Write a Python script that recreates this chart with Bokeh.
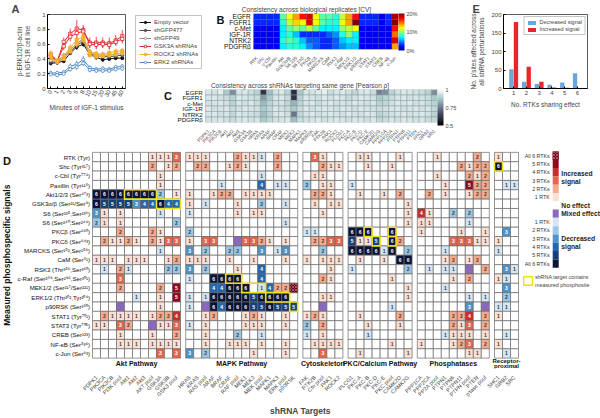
import math
from bokeh.plotting import figure
from bokeh.layouts import row, column
from bokeh.models import (ColumnDataSource, Legend, LegendItem, ColorBar, LinearColorMapper,
                          FixedTicker, Range1d, FactorRange, Spacer)
from bokeh.transform import dodge, transform
from bokeh.embed import file_html
from bokeh.resources import INLINE
from bokeh.core.properties import value

FONT = "Liberation Sans"

# ---------------- Panel A data ----------------
A_TIMES = ["0", "1", "2", "3", "5", "8", "10", "15", "20", "30", "45", "60"]
A_EMPTY = [0.34, 0.35, 0.37, 0.48, 0.56, 0.60, 0.46, 0.42, 0.39, 0.40, 0.41, 0.41]
A_EMPTY_ERR = [0.02, 0.02, 0.02, 0.03, 0.04, 0.04, 0.03, 0.03, 0.03, 0.02, 0.02, 0.02]
A_GFP477 = [0.36, 0.35, 0.42, 0.50, 0.58, 0.64, 0.47, 0.44, 0.43, 0.43, 0.44, 0.45]
A_GFP477_ERR = [0.02, 0.02, 0.03, 0.03, 0.04, 0.05, 0.03, 0.03, 0.03, 0.03, 0.03, 0.03]
A_GFP49 = [0.38, 0.36, 0.45, 0.52, 0.61, 0.67, 0.50, 0.46, 0.45, 0.45, 0.47, 0.47]
A_GFP49_ERR = [0.02, 0.02, 0.03, 0.03, 0.04, 0.05, 0.03, 0.03, 0.03, 0.03, 0.03, 0.03]
A_GSK3A_1 = [0.46, 0.37, 0.63, 0.74, 0.81, 0.79, 0.62, 0.62, 0.62, 0.61, 0.65, 0.71]
A_GSK3A_1_ERR = [0.05, 0.03, 0.06, 0.07, 0.12, 0.07, 0.07, 0.08, 0.07, 0.08, 0.07, 0.08]
A_GSK3A_2 = [0.43, 0.37, 0.57, 0.70, 0.75, 0.77, 0.60, 0.59, 0.60, 0.59, 0.63, 0.67]
A_GSK3A_2_ERR = [0.04, 0.03, 0.05, 0.06, 0.08, 0.06, 0.05, 0.06, 0.05, 0.06, 0.05, 0.06]
A_ROCK2_1 = [0.47, 0.38, 0.44, 0.55, 0.66, 0.70, 0.49, 0.47, 0.46, 0.48, 0.50, 0.51]
A_ROCK2_1_ERR = [0.04, 0.03, 0.04, 0.05, 0.06, 0.07, 0.04, 0.04, 0.04, 0.04, 0.04, 0.04]
A_ROCK2_2 = [0.41, 0.36, 0.40, 0.50, 0.60, 0.66, 0.45, 0.43, 0.44, 0.45, 0.46, 0.48]
A_ROCK2_2_ERR = [0.03, 0.03, 0.03, 0.04, 0.05, 0.05, 0.03, 0.03, 0.03, 0.03, 0.03, 0.03]
A_ERK2_1 = [0.21, 0.21, 0.22, 0.30, 0.33, 0.39, 0.28, 0.26, 0.27, 0.26, 0.29, 0.30]
A_ERK2_1_ERR = [0.03, 0.03, 0.03, 0.04, 0.05, 0.05, 0.03, 0.03, 0.03, 0.03, 0.03, 0.03]
A_ERK2_2 = [0.19, 0.18, 0.20, 0.26, 0.29, 0.34, 0.25, 0.24, 0.24, 0.24, 0.26, 0.27]
A_ERK2_2_ERR = [0.02, 0.02, 0.02, 0.03, 0.04, 0.04, 0.03, 0.03, 0.03, 0.03, 0.03, 0.03]

# ---------------- Panel B data (CV %) ----------------
B_RTKS = ["EGFR", "FGFR1", "c-Met", "IGF-1R", "NTRK2", "PDGFRβ"]
B_SITES = ["RTK", "Shc", "c-Cbl", "Paxillin", "Akt", "GSK3α/β", "S6 235", "S6 240", "PKCβ",
           "PKCδ", "MARCKS", "CaM", "RSK3", "c-Raf", "MEK1/2", "ERK1/2", "p90RSK", "STAT1",
           "STAT3", "CREB", "NF-κB", "c-Jun"]
B_CV_EGFR = [3, 3, 3, 3, 9, 12, 14, 17, 18, 12, 9, 9, 8, 11, 14, 17, 3, 3, 3, 2, 3, 19]
B_CV_FGFR1 = [3, 3, 3, 3, 8, 11, 13, 12, 18, 12, 9, 8, 8, 12, 14, 20, 3, 3, 3, 2, 3, 20]
B_CV_CMET = [2, 2, 2, 2, 7, 9, 10, 9, 11, 9, 7, 7, 7, 10, 11, 12, 2, 2, 2, 2, 2, 17]
B_CV_IGF1R = [2, 2, 2, 2, 7, 8, 6, 3, 3, 3, 3, 4, 5, 8, 10, 7, 2, 2, 2, 2, 2, 15]
B_CV_NTRK2 = [2, 2, 2, 2, 8, 9, 8, 6, 4, 4, 3, 3, 4, 6, 7, 7, 2, 2, 2, 2, 2, 18]
B_CV_PDGFRB = [2, 2, 2, 2, 7, 8, 8, 7, 5, 4, 3, 3, 4, 5, 6, 6, 2, 2, 2, 2, 2, 14]

# ---------------- Panel C data (Pearson rho) ----------------
C_GENES = ["PDPK1", "PIK3CA", "PIK3CB", "Akt1", "Akt2", "Akt3", "GSK3A", "GSK3B", "HRAS", "KRAS",
           "ARAF", "BRAF", "CRAF", "MEK1", "MEK2", "MAPK1", "MAPK3", "p90RSK", "FAK", "PTK2B",
           "PAK1", "ROCK2", "PLCG1", "PKC-A", "PKC-B", "PKC-D", "PKC-E", "CAMK2D", "CAMK2G",
           "PPP1CA", "PPP2CA", "PTPN1", "PTPN6", "PTPN11", "PTEN", "SHC1", "GRB2", "SRC"]
C_RHO_EGFR = [0.95, 0.93, 0.96, 0.88, 0.78, 0.94, 0.95, 0.92, 0.90, 0.62, 0.86, 0.93, 0.95, 0.90, 0.60, 0.88, 0.94, 0.93, 0.95,
              0.96, 0.92, 0.94, 0.95, 0.93, 0.91, 0.94, 0.95, 0.92, 0.76, 0.78, 0.90, 0.93, 0.95, 0.94, 0.93, 0.92, 0.90, 0.78]
C_RHO_FGFR1 = [0.94, 0.95, 0.93, 0.92, 0.90, 0.95, 0.94, 0.93, 0.92, 0.80, 0.88, 0.94, 0.95, 0.92, 0.62, 0.90, 0.95, 0.94, 0.93,
               0.95, 0.93, 0.95, 0.94, 0.92, 0.93, 0.95, 0.94, 0.93, 0.88, 0.90, 0.92, 0.94, 0.95, 0.93, 0.94, 0.93, 0.92, 0.88]
C_RHO_CMET = [0.93, 0.94, 0.95, 0.93, 0.90, 0.94, 0.93, 0.95, 0.92, 0.85, 0.90, 0.93, 0.94, 0.91, 0.84, 0.90, 0.94, 0.95, 0.92,
              0.94, 0.95, 0.93, 0.94, 0.93, 0.95, 0.94, 0.93, 0.94, 0.90, 0.91, 0.93, 0.95, 0.94, 0.95, 0.93, 0.94, 0.92, 0.90]
C_RHO_IGF1R = [0.95, 0.93, 0.94, 0.95, 0.92, 0.93, 0.95, 0.94, 0.93, 0.88, 0.91, 0.95, 0.93, 0.92, 0.88, 0.92, 0.95, 0.93, 0.94,
               0.95, 0.94, 0.93, 0.95, 0.94, 0.93, 0.95, 0.94, 0.93, 0.92, 0.93, 0.94, 0.95, 0.93, 0.94, 0.95, 0.93, 0.94, 0.91]
C_RHO_NTRK2 = [0.94, 0.95, 0.93, 0.94, 0.91, 0.95, 0.94, 0.93, 0.92, 0.86, 0.90, 0.94, 0.95, 0.93, 0.74, 0.91, 0.94, 0.95, 0.93,
               0.94, 0.95, 0.94, 0.93, 0.95, 0.94, 0.93, 0.95, 0.94, 0.90, 0.92, 0.93, 0.94, 0.95, 0.93, 0.94, 0.95, 0.93, 0.90]
C_RHO_PDGFRB = [0.93, 0.94, 0.95, 0.93, 0.92, 0.94, 0.95, 0.93, 0.94, 0.88, 0.91, 0.93, 0.94, 0.95, 0.86, 0.92, 0.93, 0.94, 0.95,
                0.93, 0.94, 0.95, 0.94, 0.93, 0.95, 0.94, 0.93, 0.95, 0.91, 0.92, 0.94, 0.93, 0.95, 0.94, 0.93, 0.94, 0.92, 0.91]

# ---------------- Panel E data ----------------
E_N_RTKS = ["1", "2", "3", "4", "5", "6"]
E_DECREASED = [52, 18, 12, 10, 16, 41]
E_INCREASED = [180, 59, 18, 3, 2, 1]

# ---------------- Panel D data ----------------
# '.' no effect, '1'-'6' increased in n RTKs, 'a'-'f' decreased in 1-6 RTKs, 'm' mixed
D_SIGNALS = ["RTK (Tyr)", "Shc (Tyr³¹⁷)", "c-Cbl (Tyr⁷⁷⁴)", "Paxillin (Tyr¹¹⁸)", "Akt1/2/3 (Ser⁴⁷³)",
             "GSK3α/β (Ser²¹/Ser⁹)", "S6 (Ser²³⁵,Ser²³⁶)", "S6 (Ser²⁴⁰,Ser²⁴⁴)", "PKCβ (Ser⁶⁶⁰)",
             "PKCδ (Ser⁶⁴³)", "MARCKS (Ser¹⁵²,Ser¹⁵⁶)", "CaM (Ser⁸¹)", "RSK3 (Thr³⁵⁶,Ser³⁶⁰)",
             "c-Raf (Ser²⁸⁹,Ser²⁹⁶,Ser³⁰¹)", "MEK1/2 (Ser²¹⁷/Ser²²¹)", "ERK1/2 (Thr²⁰²,Tyr²⁰⁴)",
             "p90RSK (Ser³⁸⁰)", "STAT1 (Tyr⁷⁰¹)", "STAT3 (Tyr⁷⁰⁵)", "CREB (Ser¹³³)", "NF-κB (Ser⁵³⁶)",
             "c-Jun (Ser⁶³)"]
D_GROUPS = ["Akt Pathway", "MAPK Pathway", "Cytoskeleton", "PKC/Calcium Pathway", "Phosphatases",
            "Receptor-proximal"]
AKT_COLS = ["PDPK1", "PIK3CA", "PIK3CB", "PI3K pool", "Akt1", "Akt2", "Akt3", "AKT pool", "GSK3A",
            "GSK3B", "GSK3 pool"]
MAPK_COLS = ["HRAS", "KRAS", "RAS pool", "ARAF", "BRAF", "CRAF", "RAF pool", "MEK1", "MEK2",
             "MEK pool", "MAPK1", "MAPK3", "ERK pool", "p90RSK"]
CYTO_COLS = ["FAK", "PTK2B", "Cfn pool", "PAK1", "ROCK2"]
PKC_COLS = ["PLCG1", "PKC-A", "PKC-B", "PKC-D", "PKC-E", "PKC pool", "CAMK2D", "CAMK2G"]
PHOS_COLS = ["PPP1CA", "PPP2CA", "PP2A pool", "PTPN1", "PTPN6", "PTPN11", "PTPN pool", "PTEN",
             "p'tase pool"]
RP_COLS = ["SHC1", "GRB2", "SRC"]

D_AKT = [".......1113", ".......2.12", "........1..", "........1..", "ffffffffb.1",
         "feeeecddfdd", "c1.1....a..", "b1.1......b", "...2...21..", ".21121.2133",
         "........a..", "111.111..12", ".a.2a....bb", "...3.......", "...2....2.5",
         ".....a..1.5", "...m....1..", ".21111.1224", "11.32..m113", "...1...1..2",
         "...111.1111", "........3.3"]
D_MAPK = ["111...211a.2..", ".22..121...2..", ".........a....", "....a....d.aa.",
          "1..122.1111...", "1.a...1..b..a.", "a.....1.11....", "............a.",
          "b.............", "1.33..m3321.1.", "c.b..bb..c.ac.", "111..1..1...1.",
          "c.b...1..d....", "a..ffff..d....", "...ddfff.ad226", "a.afffffeffff.",
          "a.mfdfffeefeee", "..12...121..1.", "a.1....111..1.", "..1...b..a....",
          "..1..111.1..1.", "c.b.....1...1."]
D_CYTO = [".31..", "..211", ".11..", "b.11.", ".221.", ".1.11", "..1..", ".....", "aa...",
          ".2233", "..b..", "1.111", "...1.", "..21.", ".....", "..11.", "..m..", "121..",
          "b.2..", "a.1..", ".1111", "..3.."]
D_PKC = [".11...1.", "..1..1..", "........", "a.......", ".1..1.2.", ".......1", ".......1",
         ".......1", "fff..f..", "e11e.f2.", "ffffaf.b", ".1..1.ff", "a......b", ".....1..",
         ".......1", ".......1", ".....a..", ".1....2.", "..1...1.", "..a.....", ".....1..",
         ".1.....1"]
D_PHOS = ["..1....2.", ".....2122", "..1...212", "...1..522", ".2.1..122", ".........",
          "41..b.b..", "11....a..", "1....1..1", "....33311", "...a.....", "...12.12.",
          ".a.aa.m.2", "....1.2..", "...a.....", "......a.a", "......c.m", "....224.2",
          "....213.2", "...a111.1", "1...123.2", "......11."]
D_RP = ["1..", "f..", "...", ".aa", "...", "...", "...", "...", ".c.", "1..", "a..", "...",
        ".ca", "1a.", ".c.", ".b.", "aa.", "1..", "...", ".a.", "1..", ".a."]
# shRNA target contains measured phosphosite: (signal row, group, first col, last col)
D_TARGET_BOXES = [(1, "Receptor-proximal", 0, 0), (4, "Akt Pathway", 4, 7), (5, "Akt Pathway", 8, 10),
                  (8, "PKC/Calcium Pathway", 2, 2), (8, "PKC/Calcium Pathway", 5, 5),
                  (9, "PKC/Calcium Pathway", 3, 3), (9, "PKC/Calcium Pathway", 5, 5),
                  (13, "MAPK Pathway", 5, 6), (14, "MAPK Pathway", 7, 9),
                  (15, "MAPK Pathway", 10, 12), (16, "MAPK Pathway", 13, 13)]
D_LEGEND_COUNTS = ["All 6 RTKs", "5 RTKs", "4 RTKs", "3 RTKs", "2 RTKs", "1 RTK", "", "",
                   "1 RTK", "2 RTKs", "3 RTKs", "4 RTKs", "5 RTKs", "All 6 RTKs"]

INC = ["#fbe1d3", "#f4aa8c", "#e3674d", "#c92d2b", "#8e0b1f", "#5c0015"]
DEC = ["#d4e5f3", "#9dc6e3", "#4d93c9", "#2567ae", "#173f7d", "#0b1434"]
MIX = "#8b68be"
YELLOW = "#efe01a"


def ramp(anchors, n=256):
    out = []
    for i in range(n):
        t = i / (n - 1)
        rgb = anchors[-1][1]
        for (t0, c0), (t1, c1) in zip(anchors[:-1], anchors[1:]):
            if t0 <= t <= t1:
                f = (t - t0) / (t1 - t0)
                rgb = [round(a + (b - a) * f) for a, b in zip(c0, c1)]
                break
        out.append("#%02x%02x%02x" % tuple(rgb))
    return out


JET = ramp([(0, (0, 0, 143)), (0.11, (0, 0, 255)), (0.36, (0, 255, 255)), (0.61, (255, 255, 0)),
            (0.86, (255, 0, 0)), (1, (128, 0, 0))])
BONE = ramp([(0, (0, 0, 0)), (0.365, (81, 81, 113)), (0.746, (166, 199, 199)), (1, (255, 255, 255))])


def base(p):
    p.background_fill_color = None
    p.border_fill_color = None
    p.grid.visible = False
    for ax in p.axis:
        ax.major_label_text_font = FONT
        ax.axis_label_text_font = FONT
        ax.axis_label_text_font_style = "normal"
        ax.minor_tick_line_color = None


def letter_title(p, txt, offset):
    p.title.text = txt
    p.title.align = "left"
    p.title.offset = offset
    p.title.text_font = FONT
    p.title.text_font_size = "11px"
    p.title.text_font_style = "bold"
    p.title.standoff = 0


# ================= Panel A =================
pA = figure(width=133, height=150, x_range=FactorRange(factors=A_TIMES), y_range=Range1d(0, 1),
            min_border_left=47, min_border_right=8, min_border_top=14, min_border_bottom=62,
            output_backend="svg", toolbar_location=None)
base(pA)
A_SERIES = [
    ("Empty vector", "#111111", [(A_EMPTY, A_EMPTY_ERR)], "circle", "#111111"),
    ("shGFP477", "#4d4d4d", [(A_GFP477, A_GFP477_ERR)], "circle", "#4d4d4d"),
    ("shGFP49", "#8c8c8c", [(A_GFP49, A_GFP49_ERR)], "circle", "white"),
    ("GSK3A shRNAs", "#e0262d", [(A_GSK3A_1, A_GSK3A_1_ERR), (A_GSK3A_2, A_GSK3A_2_ERR)], "square", "white"),
    ("ROCK2 shRNAs", "#f2b134", [(A_ROCK2_1, A_ROCK2_1_ERR), (A_ROCK2_2, A_ROCK2_2_ERR)], "square", "#f2b134"),
    ("ERK2 shRNAs", "#4b88c9", [(A_ERK2_1, A_ERK2_1_ERR), (A_ERK2_2, A_ERK2_2_ERR)], "circle", "white"),
]
for label, color, curves, marker, fill in A_SERIES:
    for ys, errs in curves:
        src = ColumnDataSource(dict(x=A_TIMES, y=ys, lo=[v - e for v, e in zip(ys, errs)],
                                    hi=[v + e for v, e in zip(ys, errs)]))
        pA.segment(x0="x", y0="lo", x1="x", y1="hi", source=src, line_color=color, line_width=0.8)
        pA.line("x", "y", source=src, line_color=color, line_width=1)
        pA.scatter("x", "y", source=src, marker=marker, size=3.2, line_color=color,
                   fill_color=fill, line_width=0.8)
pA.yaxis.ticker = FixedTicker(ticks=[0, 0.2, 0.4, 0.6, 0.8, 1])
pA.yaxis.major_label_overrides = {0: "0", 1: "1"}
pA.xaxis.major_label_orientation = math.pi / 3
for ax in pA.axis:
    ax.major_tick_in = 2
    ax.major_tick_out = 0
    ax.major_label_text_font_size = "6px"
    ax.major_label_standoff = 2
    ax.axis_label_text_font_size = "6.5px"
    ax.axis_label_standoff = 3
pA.xaxis.axis_label = "Minutes of IGF-1 stimulus"
pA.yaxis.axis_label = "p-ERK1/2/β-actin\nin IGF-1R cell line"
pA.outline_line_color = "#333333"
pA.outline_line_width = 0.8
letter_title(pA, "A", -36)

# ----- Panel A legend box (legend in the side panel of a small figure) -----
pLA = figure(width=72, height=77, x_range=Range1d(0, 1), y_range=Range1d(0, 1),
             x_axis_type=None, y_axis_type=None,
             min_border_left=0, min_border_right=0, min_border_top=0, min_border_bottom=0,
             output_backend="svg", toolbar_location=None)
try:
    pLA.title = None
except Exception:
    pLA.title.text_font_size = "0px"
    pLA.title.standoff = 0
pLA.background_fill_color = None
pLA.border_fill_color = None
pLA.outline_line_color = None
pLA.grid.visible = False
a_items = []
for label, color, curves, marker, fill in A_SERIES:
    # legend keys use the series styles; their points lie outside the visible range
    kl = pLA.line(x=[-5, -4], y=[-5, -5], line_color=color, line_width=1)
    ks = pLA.scatter(x=[-5], y=[-5], marker=marker, size=3.2, line_color=color, fill_color=fill,
                     line_width=0.8)
    a_items.append(LegendItem(label=label, renderers=[kl, ks]))
legA = Legend(items=a_items, location="top_left", label_text_font=FONT, label_text_font_size="6px",
              glyph_width=12, glyph_height=6, label_height=6, spacing=2, padding=3, margin=2,
              border_line_color="#888888", border_line_width=0.6, label_standoff=3,
              background_fill_alpha=0)
pLA.add_layout(legA, "left")

# ================= Panel B =================
mapB = LinearColorMapper(palette=JET, low=0, high=20)
bx, by, bv = [], [], []
for rtk, vals in zip(B_RTKS, [B_CV_EGFR, B_CV_FGFR1, B_CV_CMET, B_CV_IGF1R, B_CV_NTRK2, B_CV_PDGFRB]):
    for i, v in enumerate(vals):
        bx.append(i + 0.5); by.append(rtk); bv.append(v)
pB = figure(width=261, height=77, x_range=Range1d(-5.92, len(B_SITES)),
            y_range=FactorRange(factors=list(reversed(B_RTKS))), y_axis_location=None,
            min_border_left=9, min_border_right=68, min_border_top=13, min_border_bottom=27,
            output_backend="svg", toolbar_location=None)
base(pB)
pB.rect(x="x", y="y", width=1, height=1, source=ColumnDataSource(dict(x=bx, y=by, v=bv)),
        fill_color=transform("v", mapB), line_color="#333333", line_alpha=0.35, line_width=0.5)
pB.text(x=[-0.4] * len(B_RTKS), y=B_RTKS, text=B_RTKS, text_font=value(FONT),
        text_font_size=value("6.6px"), text_align="right", text_baseline="middle",
        text_color="#111111")
pB.text(x=[-5.6], y=[(B_RTKS[0], 0.5)], text=["B"], text_font=value(FONT),
        text_font_size=value("11px"), text_font_style="bold", text_align="left",
        text_baseline="top", text_color="#111111")
pB.title.text = "Consistency across biological replicates [CV]"
pB.title.align = "center"
pB.title.offset = 22
pB.title.text_font = FONT
pB.title.text_font_size = "6.5px"
pB.title.text_font_style = "normal"
pB.title.standoff = 2
cbB = ColorBar(color_mapper=mapB, width=6, height=37, location="top_left", padding=0, margin=4,
               ticker=FixedTicker(ticks=[0, 10, 20]),
               major_label_overrides={0: "0%", 10: "10%", 20: "20%"},
               major_label_text_font=FONT, major_label_text_font_size="5.5px", label_standoff=2,
               major_tick_line_color=None, bar_line_color=None, background_fill_alpha=0)
pB.add_layout(cbB, "right")
pB.xaxis.ticker = FixedTicker(ticks=[i + 0.5 for i in range(len(B_SITES))])
pB.xaxis.major_label_overrides = {i + 0.5: s for i, s in enumerate(B_SITES)}
pB.xaxis.axis_line_color = None
pB.xaxis.major_tick_line_color = None
pB.xaxis.major_label_standoff = 2
pB.xaxis.major_label_text_font_size = "4.6px"
pB.xaxis.major_label_orientation = math.pi / 4
pB.outline_line_color = None

# ================= Panel C =================
mapC = LinearColorMapper(palette=BONE, low=0.5, high=1)
cx, cy, cv = [], [], []
for rtk, vals in zip(B_RTKS, [C_RHO_EGFR, C_RHO_FGFR1, C_RHO_CMET, C_RHO_IGF1R, C_RHO_NTRK2, C_RHO_PDGFRB]):
    for i, v in enumerate(vals):
        cx.append(i + 0.5); cy.append(rtk); cv.append(v)
pC = figure(width=306, height=73, x_range=Range1d(-7.04, len(C_GENES)),
            y_range=FactorRange(factors=list(reversed(B_RTKS))), y_axis_location=None,
            min_border_left=2, min_border_right=29, min_border_top=12, min_border_bottom=25,
            output_backend="svg", toolbar_location=None)
base(pC)
pC.rect(x="x", y="y", width=1, height=1, source=ColumnDataSource(dict(x=cx, y=cy, v=cv)),
        fill_color=transform("v", mapC), line_color="#8a9aa0", line_width=0.5)
pC.text(x=[-0.45] * len(B_RTKS), y=B_RTKS, text=B_RTKS, text_font=value(FONT),
        text_font_size=value("6.2px"), text_align="right", text_baseline="middle",
        text_color="#111111")
pC.text(x=[-6.8], y=[(B_RTKS[0], 0.5)], text=["C"], text_font=value(FONT),
        text_font_size=value("11px"), text_font_style="bold", text_align="left",
        text_baseline="top", text_color="#111111")
pC.title.text = "Consistency across shRNAs targeting same gene [Pearson ρ]"
pC.title.align = "center"
pC.title.offset = 21
pC.title.text_font = FONT
pC.title.text_font_size = "6.5px"
pC.title.text_font_style = "normal"
pC.title.standoff = 1
cbC = ColorBar(color_mapper=mapC, width=6, height=36, location="top_left", padding=0, margin=7,
               ticker=FixedTicker(ticks=[0.5, 0.75, 1]),
               major_label_overrides={0.5: "0.5", 0.75: "0.75", 1: "1"},
               major_label_text_font=FONT, major_label_text_font_size="5.5px", label_standoff=2,
               major_tick_line_color=None, bar_line_color=None, background_fill_alpha=0)
pC.add_layout(cbC, "right")
pC.xaxis.ticker = FixedTicker(ticks=[i + 0.5 for i in range(len(C_GENES))])
pC.xaxis.major_label_overrides = {i + 0.5: s for i, s in enumerate(C_GENES)}
pC.xaxis.axis_line_color = None
pC.xaxis.major_tick_line_color = None
pC.xaxis.major_label_standoff = 2
pC.xaxis.major_label_text_font_size = "4.6px"
pC.xaxis.major_label_orientation = math.pi / 4
pC.outline_line_color = None

# ================= Panel E =================
pE = figure(width=134, height=150, x_range=FactorRange(factors=E_N_RTKS, range_padding=0.1),
            y_range=Range1d(0, 200), min_border_left=37, min_border_right=13, min_border_top=13,
            min_border_bottom=58, output_backend="svg", toolbar_location=None)
base(pE)
srcE = ColumnDataSource(dict(n=E_N_RTKS, dec=E_DECREASED, inc=E_INCREASED))
rE1 = pE.vbar(x=dodge("n", -0.18, range=pE.x_range), top="dec", width=0.34, source=srcE,
              fill_color="#6ea5d9", line_color=None)
rE2 = pE.vbar(x=dodge("n", 0.18, range=pE.x_range), top="inc", width=0.34, source=srcE,
              fill_color="#e8262b", line_color=None)
legE = Legend(items=[LegendItem(label="Decreased signal", renderers=[rE1]),
                     LegendItem(label="Increased signal", renderers=[rE2])],
              location="top_right", label_text_font=FONT, label_text_font_size="5.5px",
              glyph_width=10, glyph_height=5, label_height=5, spacing=1, padding=2, margin=2,
              border_line_color="#888888", border_line_width=0.6, label_standoff=3)
pE.add_layout(legE)
pE.yaxis.ticker = FixedTicker(ticks=[0, 50, 100, 150, 200])
for ax in pE.axis:
    ax.major_tick_in = 2
    ax.major_tick_out = 0
    ax.major_label_text_font_size = "6px"
    ax.major_label_standoff = 2
    ax.axis_label_text_font_size = "6.5px"
    ax.axis_label_standoff = 3
pE.xaxis.axis_label = "No. RTKs sharing effect"
pE.yaxis.axis_label = "No. p'sites affected across\nall shRNA perturbations"
pE.outline_line_color = "#333333"
pE.outline_line_width = 0.8
letter_title(pE, "E", -31)

# ================= Panel D =================
D_COLS = [AKT_COLS, MAPK_COLS, CYTO_COLS, PKC_COLS, PHOS_COLS, RP_COLS]
D_VALUES = [D_AKT, D_MAPK, D_CYTO, D_PKC, D_PHOS, D_RP]
GAP = 0.65
offsets, o = [], 0.0
for cols in D_COLS:
    offsets.append(o)
    o += len(cols) + GAP
NR = len(D_SIGNALS)
dx, dy, dfill, dtxt, dtc = [], [], [], [], []
hx, hy = [], []
tick_x, tick_lab = [], []
for k, (g, cols, rows) in enumerate(zip(D_GROUPS, D_COLS, D_VALUES)):
    assert len(rows) == NR, g
    for j, c in enumerate(cols):
        tick_x.append(round(offsets[k] + j + 0.5, 2)); tick_lab.append(c)
    for r, s in enumerate(rows):
        assert len(s) == len(cols), (g, r, s)
        for j, ch in enumerate(s):
            x = round(offsets[k] + j + 0.5, 2)
            y = NR - 1 - r
            t, tc = "", "#333333"
            if ch == ".":
                fill = "white"
            elif ch == "m":
                fill = MIX
            elif ch.isdigit():
                v = int(ch)
                fill = INC[v - 1]
                t = ch if v < 6 else ""
                tc = "white" if v >= 3 else "#4a3030"
                if v == 6:
                    hx.append(x); hy.append(y)
            else:
                v = ord(ch) - 96
                fill = DEC[v - 1]
                t = str(v)
                tc = "white" if v >= 3 else "#2a3a4a"
            dx.append(x); dy.append(y); dfill.append(fill); dtxt.append(t); dtc.append(tc)

BAND = 1.11
pD = figure(width=600, height=268, x_range=Range1d(-11.5, 63.5),
            y_range=Range1d(-0.5 - BAND, NR - 0.5 + 0.2), y_axis_location=None,
            min_border_left=0, min_border_right=0, min_border_top=0, min_border_bottom=37,
            output_backend="svg", toolbar_location=None)
base(pD)
srcD = ColumnDataSource(dict(x=dx, y=dy, fill=dfill, t=dtxt, tc=dtc))
pD.rect(x="x", y="y", width=1, height=1, source=srcD, fill_color="fill",
        line_color="#6a6a6a", line_width=0.7)
pD.rect(x=hx, y=hy, width=1, height=1, fill_color=INC[5], line_color="#6a6a6a", line_width=0.7,
        hatch_pattern="diagonal_cross", hatch_color="#ef8a8a", hatch_scale=3, hatch_weight=0.6)
pD.text(x="x", y="y", text="t", source=srcD, text_color="tc", text_font=value(FONT),
        text_font_size=value("5px"), text_font_style="bold", text_align="center",
        text_baseline="middle")
bl, br, bt, bb = [], [], [], []
for r, g, a, b in D_TARGET_BOXES:
    k = D_GROUPS.index(g)
    bl.append(offsets[k] + a); br.append(offsets[k] + b + 1)
    bt.append(NR - 1 - r + 0.5); bb.append(NR - 1 - r - 0.5)
pD.quad(left=bl, right=br, top=bt, bottom=bb, fill_color=None, line_color=YELLOW, line_width=1.6)
# row labels (signals)
pD.text(x=[-0.3] * NR, y=[NR - 1 - i for i in range(NR)], text=D_SIGNALS, text_font=value(FONT),
        text_font_size=value("6.1px"), text_align="right", text_baseline="middle",
        text_color="#111111")
pD.text(x=[-10.7], y=[(NR - 1) / 2], text=["Measured phosphospecific signals"], angle=math.pi / 2,
        text_font=value(FONT), text_font_size=value("8.5px"), text_font_style="bold",
        text_align="center", text_baseline="middle", text_color="#111111")
pD.text(x=[-11.2], y=[NR - 0.8], text=["D"], text_font=value(FONT), text_font_size=value("11px"),
        text_font_style="bold", text_align="left", text_baseline="top", text_color="#111111")
# group labels in the band under the grid
centers = [offsets[k] + len(cols) / 2 for k, cols in enumerate(D_COLS)]
g_x = centers[:-1] + [centers[-1], centers[-1]]
g_t = D_GROUPS[:-1] + ["Receptor-", "proximal"]
g_y = [-0.5 - BAND * 0.5] * (len(D_GROUPS) - 1) + [-0.5 - BAND * 0.27, -0.5 - BAND * 0.8]
g_fs = ["7px"] * (len(D_GROUPS) - 1) + ["6px", "6px"]
pD.text(x=g_x, y=g_y, text=g_t, text_font_size=g_fs, text_font=value(FONT),
        text_font_style="bold", text_align="center", text_baseline="middle", text_color="#111111")
pD.xaxis.ticker = FixedTicker(ticks=tick_x)
pD.xaxis.major_label_overrides = {tx: lab for tx, lab in zip(tick_x, tick_lab)}
pD.xaxis.major_label_text_font_size = "5.5px"
pD.xaxis.major_label_orientation = math.pi / 4
pD.xaxis.axis_line_color = None
pD.xaxis.major_tick_line_color = None
pD.xaxis.major_label_standoff = 2
pD.xaxis.axis_label = "shRNA Targets"
pD.xaxis.axis_label_text_font_style = "bold"
pD.xaxis.axis_label_text_font_size = "8.5px"
pD.xaxis.axis_label_standoff = 3
pD.outline_line_color = None

# ----- D legend (drawn in the same frame, right of the grid) -----
leg_colors = list(reversed(INC)) + ["white", MIX] + DEC
cell_h = 0.888
top_y = NR - 0.4
LX = 57.9
ly = [top_y - (i + 0.5) * cell_h for i in range(len(leg_colors))]
pD.rect(x=[LX] * len(leg_colors), y=ly, width=0.75, height=cell_h, fill_color=leg_colors,
        line_color=None)
pD.rect(x=[LX], y=[ly[0]], width=0.75, height=cell_h, fill_color=INC[5], line_color=None,
        hatch_pattern="diagonal_cross", hatch_color="#ef8a8a", hatch_scale=3, hatch_weight=0.6)
pD.text(x=[LX - 0.75] * len(leg_colors), y=ly, text=D_LEGEND_COUNTS, text_font=value(FONT),
        text_font_size=value("5.3px"), text_align="right", text_baseline="middle",
        text_color="#333333")
titles = ["Increased", "signal", "No effect", "Mixed effect", "Decreased", "signal"]
title_idx = [2.1, 3.1, 6.0, 7.0, 9.95, 10.95]
pD.text(x=[LX + 0.7] * len(titles), y=[top_y - (kk + 0.5) * cell_h for kk in title_idx], text=titles,
        text_font=value(FONT), text_font_size=value("6.7px"), text_font_style="bold",
        text_align="left", text_baseline="middle", text_color="#222222")
box_y = top_y - 15.6 * cell_h
pD.rect(x=[54.45], y=[box_y], width=1.1, height=0.9, fill_color=None, line_color=YELLOW,
        line_width=1.4)
pD.text(x=[55.3, 55.3], y=[box_y + 0.38, box_y - 0.42],
        text=["shRNA target contains", "measured phosphosite"],
        text_font=value(FONT), text_font_size=value("5.4px"), text_align="left",
        text_baseline="middle", text_color="#444444")

layout = column(
    row(pA, column(row(pLA, pB), row(Spacer(width=27, height=73), pC)), pE),
    pD,
)

open("out.html", "w").write(file_html(layout, INLINE))
